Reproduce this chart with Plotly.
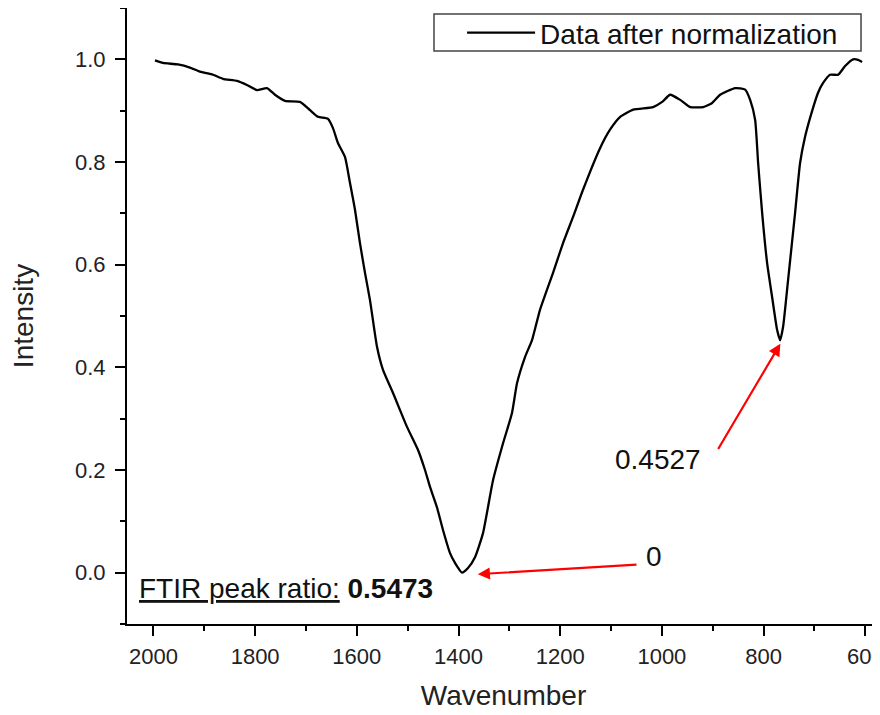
import plotly.graph_objects as go

wavenumber = [1997.0, 1981.3, 1951.8, 1928.2, 1908.5, 1883.0, 1863.3, 1835.7, 1816.1, 1796.4,
              1776.7, 1761.0, 1741.3, 1711.8, 1692.1, 1676.4, 1656.7, 1646.9, 1637.1, 1623.3,
              1613.4, 1603.6, 1593.8, 1583.9, 1574.1, 1560.3, 1548.5, 1528.8, 1501.3, 1479.6,
              1465.9, 1456.0, 1442.3, 1430.5, 1416.7, 1406.9, 1393.1, 1381.3, 1367.6, 1351.8,
              1332.1, 1312.4, 1294.8, 1284.9, 1269.2, 1255.4, 1239.7, 1214.1, 1194.4, 1174.7,
              1155.1, 1121.6, 1102.0, 1082.0, 1056.4, 1017.1, 999.4, 983.7, 964.0, 944.4,
              918.8, 901.1, 885.4, 855.9, 836.2, 826.4, 816.6, 810.7, 802.8, 793.0,
              783.2, 773.4, 767.5, 761.6, 751.8, 738.0, 728.2, 718.4, 708.5, 692.8,
              682.9, 669.2, 653.4, 639.6, 623.9, 614.0, 606.2]
intensity = [0.998, 0.993, 0.990, 0.984, 0.976, 0.970, 0.962, 0.958, 0.950, 0.940,
             0.944, 0.931, 0.919, 0.917, 0.901, 0.888, 0.884, 0.866, 0.837, 0.810,
             0.759, 0.707, 0.642, 0.584, 0.531, 0.440, 0.395, 0.350, 0.284, 0.239,
             0.200, 0.167, 0.127, 0.083, 0.038, 0.019, 0.000, 0.009, 0.030, 0.077,
             0.180, 0.252, 0.311, 0.369, 0.420, 0.453, 0.512, 0.584, 0.642, 0.693,
             0.746, 0.827, 0.863, 0.888, 0.902, 0.907, 0.917, 0.931, 0.921, 0.907,
             0.907, 0.915, 0.931, 0.944, 0.941, 0.921, 0.882, 0.798, 0.701, 0.603,
             0.537, 0.473, 0.4527, 0.479, 0.570, 0.701, 0.798, 0.849, 0.886, 0.935,
             0.954, 0.970, 0.970, 0.987, 1.000, 0.999, 0.995]

x_ticks = [2000, 1800, 1600, 1400, 1200, 1000, 800, 600]
y_ticks = [0.0, 0.2, 0.4, 0.6, 0.8, 1.0]

series_name = "Data after normalization"
ratio_text = "FTIR peak ratio:"
ratio_value = "0.5473"
peak1_label = "0"
peak1_tip = (1362, -0.003)
peak1_tail = (1047, 0.016)
peak1_text_pos = (1015, 0.032)
peak2_label = "0.4527"
peak2_tip = (767, 0.446)
peak2_tail = (891, 0.238)
peak2_text_pos = (1007, 0.221)

FONT = "Liberation Sans, Arial, sans-serif"

fig = go.Figure()
fig.add_trace(go.Scatter(x=wavenumber, y=intensity, mode="lines", name=series_name,
                         line=dict(color="black", width=2.3, shape="spline", smoothing=0.5),
                         showlegend=True))

axis_common = dict(showline=True, linecolor="black", linewidth=2, ticks="outside",
                   ticklen=10, tickwidth=2, tickcolor="black", showgrid=False,
                   zeroline=False, mirror=False, automargin=False,
                   ticklabeloverflow="allow",
                   tickfont=dict(family=FONT, size=22, color="#222"))

fig.update_xaxes(range=[2052, 571], tickvals=x_ticks, ticktext=[str(v) for v in x_ticks],
                 ticklabelstandoff=2,
                 minor=dict(ticks="outside", ticklen=5, tickwidth=2, tickcolor="black", dtick=100, tick0=0),
                 title=dict(text="Wavenumber", font=dict(family=FONT, size=28, color="#222"), standoff=17),
                 **axis_common)
fig.update_yaxes(range=[-0.1, 1.1], tickvals=y_ticks, ticktext=[f"{v:.1f}" for v in y_ticks],
                 ticklabelstandoff=5,
                 minor=dict(ticks="outside", ticklen=5, tickwidth=2, tickcolor="black", dtick=0.1, tick0=0),
                 title=dict(text="Intensity", font=dict(family=FONT, size=28, color="#222"), standoff=40),
                 **axis_common)

# arrows
for tip, tail in [(peak1_tip, peak1_tail), (peak2_tip, peak2_tail)]:
    fig.add_annotation(x=tip[0], y=tip[1], ax=tail[0], ay=tail[1], xref="x", yref="y",
                       axref="x", ayref="y", text="", showarrow=True, arrowhead=2,
                       arrowsize=1.1, arrowwidth=2.2, arrowcolor="red")

fig.add_annotation(x=peak1_text_pos[0], y=peak1_text_pos[1], xref="x", yref="y",
                   text=peak1_label, showarrow=False,
                   font=dict(family=FONT, size=28, color="#111"))
fig.add_annotation(x=peak2_text_pos[0], y=peak2_text_pos[1], xref="x", yref="y",
                   text=peak2_label, showarrow=False,
                   font=dict(family=FONT, size=28, color="#111"))
fig.add_annotation(x=2032, y=-0.030, xref="x", yref="y", xanchor="left",
                   text=f"<u>{ratio_text}</u> <b>{ratio_value}</b>", showarrow=False,
                   font=dict(family=FONT, size=28, color="#111"))

# legend frame
fig.add_shape(type="rect", xref="paper", yref="paper", x0=0.4077, x1=0.9748, y0=0.9302, y1=0.9903,
              line=dict(color="#444", width=1.5), fillcolor="white", layer="below")

fig.update_layout(
    width=880, height=715,
    margin=dict(l=119, r=8, t=0, b=99),
    plot_bgcolor="white", paper_bgcolor="white",
    showlegend=True,
    legend=dict(x=0.445, y=0.9594, xanchor="left", yanchor="middle",
                borderwidth=0, bgcolor="rgba(0,0,0,0)",
                font=dict(family=FONT, size=28, color="#111"),
                itemwidth=68, tracegroupgap=0),
)

fig.write_html("out.html")
